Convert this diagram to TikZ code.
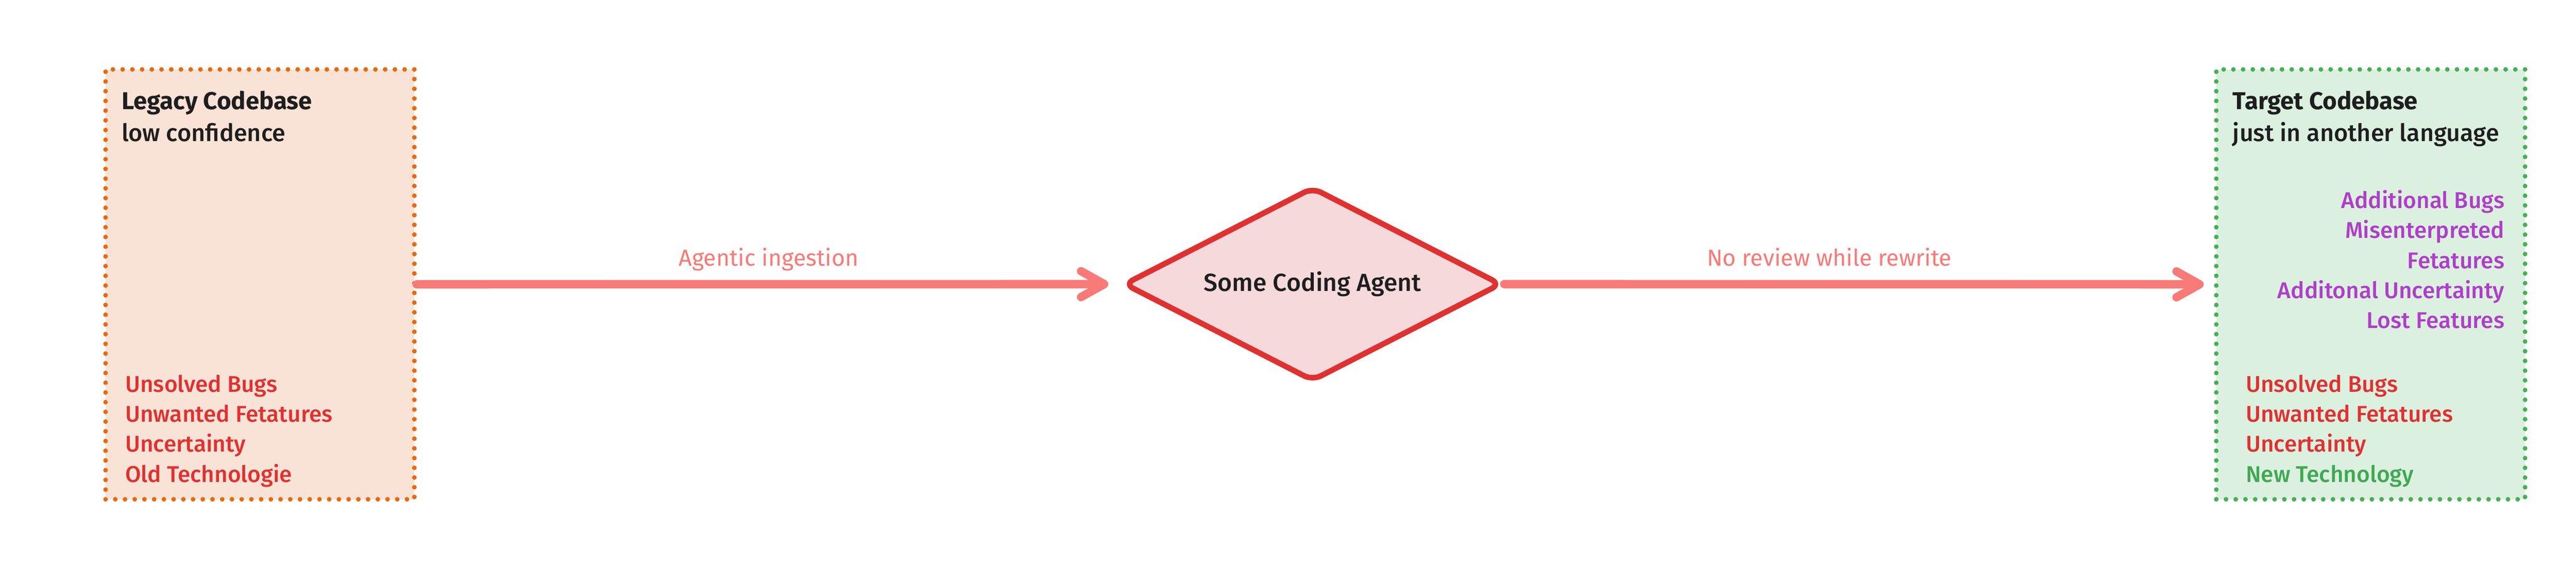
\documentclass[tikz,border=0pt]{standalone}
\usepackage{fontspec}
\setmainfont{Fira Sans}
\newfontfamily\firamed{Fira Sans Medium}
\usetikzlibrary{shapes.geometric,arrows.meta}

\definecolor{legacyfill}{HTML}{F9E2D6}
\definecolor{legacyline}{HTML}{E8690F}
\definecolor{targetfill}{HTML}{DCF0E0}
\definecolor{targetline}{HTML}{45B056}
\definecolor{agentfill}{HTML}{F6D9DB}
\definecolor{agentline}{HTML}{E03131}
\definecolor{flowcol}{HTML}{F87A77}
\definecolor{issuered}{HTML}{E03131}
\definecolor{issuepurple}{HTML}{AE3EC9}
\definecolor{issuegreen}{HTML}{40A853}
\definecolor{ink}{HTML}{1E1E1E}

\begin{document}
\begin{tikzpicture}[
    codebase/.style={line width=0.1cm, dash pattern=on 0pt off 0.21cm, line cap=round,
        minimum width=6.67cm, minimum height=9.29cm, inner sep=0pt},
    boxtitle/.style={anchor=base west, inner sep=0pt, text=ink, font=\fontsize{15}{18}\selectfont\bfseries},
    boxsub/.style={anchor=base west, inner sep=0pt, text=ink, font=\fontsize{14.8}{18}\selectfont\firamed},
    issue/.style={anchor=base west, inner sep=0pt, font=\fontsize{14}{18}\selectfont\firamed},
    flow/.style={flowcol, line width=0.18cm, line cap=round,
        -{Straight Barb[length=0.5cm,width=0.56cm,round]}},
    flowlabel/.style={anchor=base, yshift=0.39cm, text=flowcol, inner sep=0pt,
        font=\fontsize{14.2}{17}\selectfont}
]
    \useasboundingbox (0,0) rectangle (55.64,12.29);

    \node[codebase, draw=legacyline, fill=legacyfill] (legacy) at (5.615,6.145) {};
    \node[codebase, draw=targetline, fill=targetfill] (target) at (51.205,6.145) {};

    \node[diamond, aspect=2, draw=agentline, fill=agentfill, line width=0.12cm,
        rounded corners=0.2cm, minimum width=8.16cm, minimum height=4.2cm, inner sep=0pt,
        text=ink, font=\fontsize{15.2}{18}\selectfont\firamed] (agent) at (28.35,6.15) {Some Coding Agent};

    \draw[flow, shorten >=0.27cm] (legacy.east) -- (agent.west)
        node[flowlabel, midway] (ingestlabel) {Agentic ingestion};
    \draw[flow, shorten >=0.22cm] (agent.east) -- (target.west)
        node[flowlabel, pos=0.458] (rewritelabel) {No review while rewrite};

    \node[boxtitle] (legacytitle) at (2.62,9.92) {Legacy Codebase};
    \node[boxsub] (legacysub) at (2.62,9.23) {low confidence};
    \node[issue, text=issuered] (legacybugs) at (2.70,3.82) {Unsolved Bugs};
    \node[issue, text=issuered] (legacyfeat) at (2.70,3.17) {Unwanted Fetatures};
    \node[issue, text=issuered] (legacyuncert) at (2.70,2.52) {Uncertainty};
    \node[issue, text=issuered] (legacytech) at (2.70,1.87) {Old Technologie};

    \node[boxtitle] (targettitle) at (48.22,9.92) {Target Codebase};
    \node[boxsub] (targetsub) at (48.22,9.23) {just in another language};
    \node[issue, anchor=base east, text=issuepurple] (targetaddbugs) at (54.10,7.79) {Additional Bugs};
    \node[issue, anchor=base east, text=issuepurple] (targetmisint) at (54.10,7.14) {Misenterpreted\hspace{0.12cm}};
    \node[issue, anchor=base east, text=issuepurple] (targetmisfeat) at (54.10,6.49) {Fetatures};
    \node[issue, anchor=base east, text=issuepurple] (targetadduncert) at (54.10,5.84) {Additonal Uncertainty};
    \node[issue, anchor=base east, text=issuepurple] (targetlost) at (54.10,5.20) {Lost Features};
    \node[issue, text=issuered] (targetbugs) at (48.50,3.82) {Unsolved Bugs};
    \node[issue, text=issuered] (targetfeat) at (48.50,3.17) {Unwanted Fetatures};
    \node[issue, text=issuered] (targetuncert) at (48.50,2.52) {Uncertainty};
    \node[issue, text=issuegreen] (targettech) at (48.50,1.87) {New Technology};
\end{tikzpicture}
\end{document}
